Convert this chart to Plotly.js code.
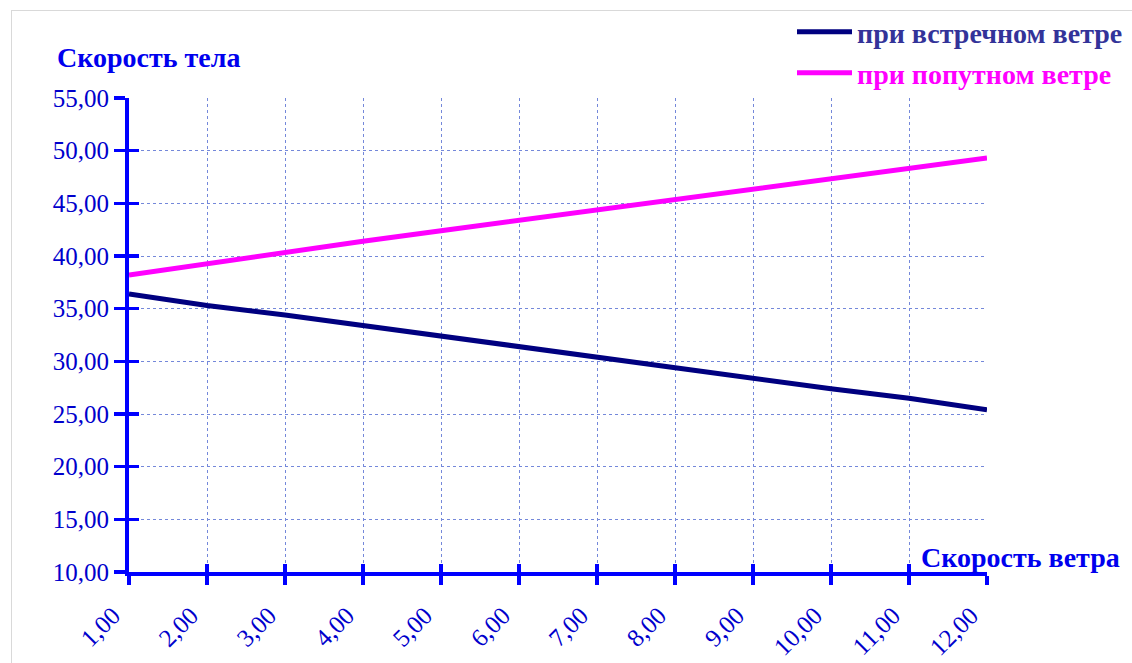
<!DOCTYPE html>
<html>
<head>
<meta charset="utf-8">
<script src="https://cdn.plot.ly/plotly-3.0.1.min.js"></script>
<style>
html,body{margin:0;padding:0;background:#fff;overflow:hidden;}
#chart{width:1132px;height:663px;}
#frame{position:absolute;left:11px;top:10px;width:1200px;height:800px;border:1px solid #d9d9d9;pointer-events:none;}
</style>
</head>
<body>
<div id="frame"></div>
<div id="chart"></div>
<script>
const windSpeed = [1,2,3,4,5,6,7,8,9,10,11,12];
const headwind = [36.4,35.3,34.4,33.4,32.4,31.4,30.3,29.4,28.4,27.4,26.5,25.4];
const tailwind = [38.2,39.3,40.3,41.4,42.4,43.4,44.4,45.3,46.3,47.3,48.4,49.3];
const seriesNames = ['при встречном ветре','при попутном ветре'];
const yTitle = 'Скорость тела';
const xTitle = 'Скорость ветра';

const AX = '#0000ff';
const LBL = '#0000cc';
const SERIF = '"Liberation Serif","Times New Roman",serif';

const traces = [
  {x: windSpeed, y: headwind, mode:'lines', name:'<span style="color:#333399">'+seriesNames[0]+'</span>',
   line:{color:'#000080', width:5}, legend:'legend'},
  {x: windSpeed, y: tailwind, mode:'lines', name:'<span style="color:#ff00ff">'+seriesNames[1]+'</span>',
   line:{color:'#ff00ff', width:5}, legend:'legend2'},
  // empty helper trace so the overlay axes (inner half of the crossing ticks) get drawn
  {x:[null], y:[null], xaxis:'x2', yaxis:'y2', mode:'lines', showlegend:false, hoverinfo:'skip'}
];

const gridCol = '#7488da';
const layout = {
  width:1132, height:663,
  paper_bgcolor:'rgba(0,0,0,0)', plot_bgcolor:'rgba(0,0,0,0)',
  margin:{l:129, r:145, t:98, b:91.3, autoexpand:false},
  separators:', ',
  showlegend:true,
  font:{family:SERIF, color:LBL},
  xaxis:{range:[1,12], tickvals:windSpeed, tickformat:'.2f', tickangle:-45,
    showline:true, linecolor:AX, linewidth:4,
    ticks:'outside', ticklen:9, tickwidth:3.5, tickcolor:AX,
    ticklabelstandoff:6, ticklabelshift:-16,
    showgrid:true, gridcolor:gridCol, gridwidth:1, griddash:'3px,3px',
    zeroline:false, tickfont:{family:SERIF, size:25, color:LBL}, fixedrange:true},
  yaxis:{range:[10,55], dtick:5, tick0:10, tickformat:'.2f',
    showline:true, linecolor:AX, linewidth:4,
    ticks:'outside', ticklen:11, tickwidth:3.5, tickcolor:AX,
    showgrid:true, gridcolor:gridCol, gridwidth:1, griddash:'3px,3px',
    zeroline:false, tickfont:{family:SERIF, size:25, color:LBL}, fixedrange:true},
  xaxis2:{overlaying:'x', anchor:'y', side:'bottom', range:[1,12], tickvals:windSpeed,
    ticks:'inside', ticklen:8, tickwidth:3.5, tickcolor:AX,
    showticklabels:false, showgrid:false, showline:false, zeroline:false, fixedrange:true},
  yaxis2:{overlaying:'y', anchor:'x', side:'left', range:[10,55], dtick:5, tick0:10,
    ticks:'inside', ticklen:10, tickwidth:3.5, tickcolor:AX,
    showticklabels:false, showgrid:false, showline:false, zeroline:false, fixedrange:true},
  legend:{xref:'container', yref:'container', x:792/1132, y:1-7/663, xanchor:'left', yanchor:'top',
    bgcolor:'rgba(0,0,0,0)', font:{family:SERIF, size:28, color:'#333399', weight:'bold'}, itemwidth:55},
  legend2:{xref:'container', yref:'container', x:792/1132, y:1-48/663, xanchor:'left', yanchor:'top',
    bgcolor:'rgba(0,0,0,0)', font:{family:SERIF, size:28, color:'#ff00ff', weight:'bold'}, itemwidth:55},
  annotations:[
    {text:'<b>'+yTitle+'</b>', xref:'paper', yref:'paper', x:(55-129)/858, y:(571.7-57)/474,
     xanchor:'left', yanchor:'middle', showarrow:false, font:{family:SERIF, size:28, color:'#0000ee'}},
    {text:'<b>'+xTitle+'</b>', xref:'paper', yref:'paper', x:(919-129)/858, y:(571.7-557)/474,
     xanchor:'left', yanchor:'middle', showarrow:false, font:{family:SERIF, size:28, color:'#0000ee'}}
  ]
};

Plotly.newPlot('chart', traces, layout, {displayModeBar:false, staticPlot:true});
</script>
</body>
</html>
